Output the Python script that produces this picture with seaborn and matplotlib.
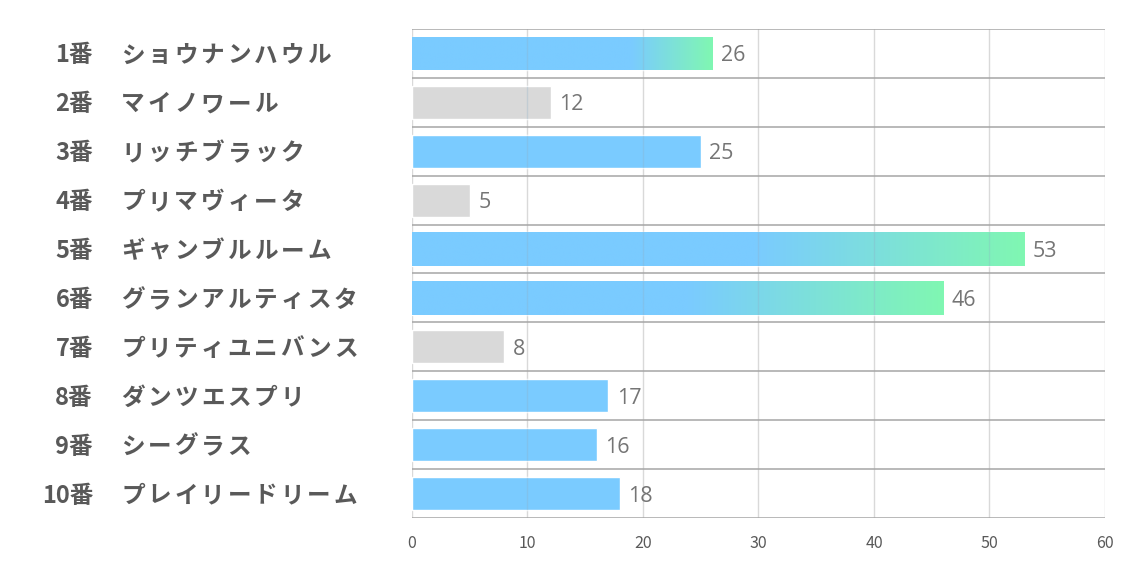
import numpy as np
import pandas as pd
import matplotlib
matplotlib.use("Agg")
import matplotlib.pyplot as plt
import matplotlib.transforms as mtransforms
from matplotlib.colors import to_rgb
import seaborn as sns

numbers = ["1番", "2番", "3番", "4番", "5番", "6番", "7番", "8番", "9番", "10番"]
names = ["ショウナンハウル", "マイノワール", "リッチブラック", "プリマヴィータ", "ギャンブルルーム",
         "グランアルティスタ", "プリティユニバンス", "ダンツエスプリ", "シーグラス", "プレイリードリーム"]
values = [26, 12, 25, 5, 53, 46, 8, 17, 16, 18]
highlight = [True, False, True, False, True, True, False, True, True, True]
gradient_bars = {0: 0.73, 4: 0.56, 5: 0.52}  # bar index -> fraction where fade to green begins

BLUE = "#7ACBFF"
GREEN = "#80F7B2"
GRAY = "#D9D9D9"
BAR_W = 0.68

sns.set_theme(style="white")
plt.rcParams["font.family"] = ["Noto Sans CJK JP", "DejaVu Sans"]

df = pd.DataFrame({"label": [f"{n} {m}" for n, m in zip(numbers, names)], "value": values})
palette = [BLUE if h else GRAY for h in highlight]

fig = plt.figure(figsize=(11.34, 5.67), dpi=100)
ax = fig.add_axes([0.3633, 0.0864, 0.9744 - 0.3633, 0.9489 - 0.0864])
sns.barplot(data=df, y="label", x="value", hue="label", palette=palette, legend=False,
            orient="h", width=BAR_W, ax=ax, saturation=1, zorder=2)

ax.set_xlim(0, 60)
ax.set_ylim(len(values) - 0.5, -0.5)
ax.set_xticks(np.arange(0, 61, 10))
ax.tick_params(axis="x", labelsize=11.5, labelcolor="#595959", length=0, pad=12)
ax.set_yticks([])
ax.set_xlabel("")
ax.set_ylabel("")
for s in ax.spines.values():
    s.set_visible(False)

for xv in np.arange(0, 61, 10):
    ax.axvline(xv, color="#D9D9D9", lw=1, zorder=1)
for k in range(len(values) + 1):
    ax.axhline(k - 0.5, color="#A6A6A6", lw=1.1, zorder=1)

# gradient overlays
b = np.array(to_rgb(BLUE))
g = np.array(to_rgb(GREEN))
patches = list(ax.patches)
for idx, start in gradient_bars.items():
    p = patches[idx]
    x0, y0 = p.get_x(), p.get_y()
    w, h = p.get_width(), p.get_height()
    t = np.linspace(0, 1, 512)
    f = np.clip((t - start) / (1 - start), 0, 1)
    cols = b[None, :] * (1 - f[:, None]) + g[None, :] * f[:, None]
    img = cols[None, :, :]
    im = ax.imshow(img, extent=(x0, x0 + w, y0 + h, y0), aspect="auto", zorder=3,
                   interpolation="bilinear")
    im.set_clip_path(p)
ax.set_xlim(0, 60)
ax.set_ylim(len(values) - 0.5, -0.5)

# faint grid lines showing through the bars only
for i, v in enumerate(values):
    xs = [xv for xv in np.arange(10, 61, 10) if xv < v]
    if xs:
        ax.vlines(xs, i - BAR_W / 2, i + BAR_W / 2, color="#8FAFC6", lw=1, alpha=0.3, zorder=3.5)

# value labels
for i, v in enumerate(values):
    ax.text(v + 0.75, i + 0.05, str(v), va="center", ha="left", fontsize=15.5,
            color="#757575", family=["Open Sans", "DejaVu Sans"], zorder=4)

# category labels: number right-aligned, name left-aligned with wide letter spacing
trans = mtransforms.blended_transform_factory(fig.transFigure, ax.transData)
char_step = 26.6 / 1134
for i, (n, m) in enumerate(zip(numbers, names)):
    ax.text(93 / 1134, i + 0.04, n, transform=trans, ha="right", va="center", fontsize=17,
            fontweight="bold", color="#595959", clip_on=False)
    for k, ch in enumerate(m):
        ax.text(121 / 1134 + k * char_step, i + 0.04, ch, transform=trans, ha="left",
                va="center", fontsize=17, fontweight="bold", color="#595959", clip_on=False)

fig.savefig("out.png", dpi=100, facecolor="white")
